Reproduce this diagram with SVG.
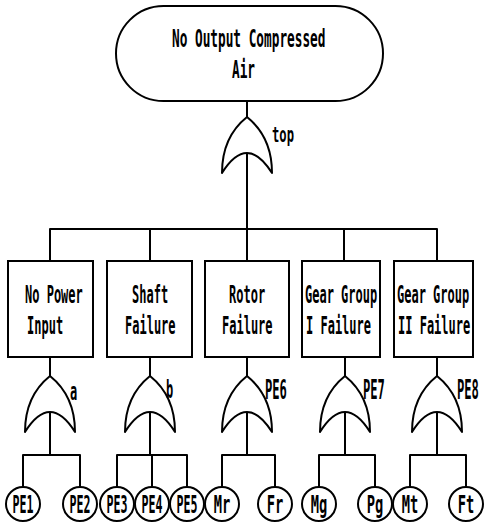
<svg xmlns="http://www.w3.org/2000/svg" width="484" height="530" viewBox="0 0 484 530">
<style>
.s{fill:none;stroke:#000;stroke-width:2;stroke-linejoin:round;stroke-linecap:round}
.b{fill:#fff;stroke:#000;stroke-width:2}
.t{font-family:"DejaVu Sans Mono","Liberation Mono",monospace;font-weight:bold;fill:#000}
.bx{font-size:25px}
.tp{font-size:25px}
.c{text-anchor:middle;font-size:25px}
.l{font-size:27px}
.sm{font-size:24px}
</style>
<defs>
<path id="or" d="M-25,56 C-25,25 -10,8 0,0 C10,8 25,25 25,56 Q0,16 -25,56 Z" fill="#fff" stroke="#000" stroke-width="2" stroke-linejoin="round"/>
<circle id="ev" r="17" fill="#fff" stroke="#000" stroke-width="2"/>
</defs>
<rect width="484" height="530" fill="#fff"/>
<g id="connectors" class="s">
<path d="M247,101V117M247,150V229M50,229H437M50,229V261M150,229V261M247,229V261M344,229V261M437,229V261"/>
<path d="M50,357V376M150,357V376M247,357V376M345,357V376M437,357V376"/>
<path d="M50,412V455M23,455H80M23,455V487M80,455V487"/>
<path d="M150,412V455M117,455H187M117,455V487M152,455V487M187,455V487"/>
<path d="M247,412V455M222,455H275M222,455V487M275,455V487"/>
<path d="M345,412V455M319,455H375M319,455V487M375,455V487"/>
<path d="M437,412V455M410,455H466M410,455V487M466,455V487"/>
</g>
<g id="n-top">
<rect x="116" y="6" width="267" height="95" rx="47.5" class="b"/>
<text class="t tp" transform="translate(172,47) scale(0.51,1)">No Output Compressed</text>
<text class="t tp" transform="translate(232,78) scale(0.51,1)">Air</text>
</g>
<g id="g-top"><use href="#or" x="247" y="117"/><text class="t" style="font-size:21px" transform="translate(272,142) scale(0.58,1)">top</text></g>
<g id="n-power">
<rect x="8" y="261" width="85" height="96" class="b"/>
<text class="t bx" transform="translate(25,303) scale(0.48,1)">No Power</text>
<text class="t bx" transform="translate(27,334) scale(0.48,1)">Input</text>
</g>
<g id="n-shaft">
<rect x="107" y="261" width="85" height="96" class="b"/>
<text class="t bx" transform="translate(132,303) scale(0.48,1)">Shaft</text>
<text class="t bx" transform="translate(125,334) scale(0.48,1)">Failure</text>
</g>
<g id="n-rotor">
<rect x="205" y="261" width="84" height="96" class="b"/>
<text class="t bx" transform="translate(229,303) scale(0.48,1)">Rotor</text>
<text class="t bx" transform="translate(222,334) scale(0.48,1)">Failure</text>
</g>
<g id="n-gear1">
<rect x="302" y="261" width="78" height="96" class="b"/>
<text class="t bx" transform="translate(305,303) scale(0.48,1)">Gear Group</text>
<text class="t bx" transform="translate(306,334) scale(0.48,1)">I Failure</text>
</g>
<g id="n-gear2">
<rect x="394" y="261" width="79" height="96" class="b"/>
<text class="t bx" transform="translate(397,303) scale(0.48,1)">Gear Group</text>
<text class="t bx" transform="translate(398,334) scale(0.48,1)">II Failure</text>
</g>
<g id="g-a"><use href="#or" x="50" y="376"/><text class="t sm" transform="translate(70,400) scale(0.5,1)">a</text></g>
<g id="g-b"><use href="#or" x="150" y="376"/><text class="t sm" transform="translate(166,398) scale(0.5,1)">b</text></g>
<g id="g-pe6"><use href="#or" x="247" y="376"/><text class="t l" transform="translate(265,399) scale(0.45,1)">PE6</text></g>
<g id="g-pe7"><use href="#or" x="345" y="376"/><text class="t l" transform="translate(363,399) scale(0.45,1)">PE7</text></g>
<g id="g-pe8"><use href="#or" x="437" y="376"/><text class="t l" transform="translate(457,399) scale(0.45,1)">PE8</text></g>
<g id="e-pe1"><use href="#ev" x="23" y="504"/><text class="t c" transform="translate(23,513) scale(0.465,1)">PE1</text></g>
<g id="e-pe2"><use href="#ev" x="80" y="504"/><text class="t c" transform="translate(80,513) scale(0.465,1)">PE2</text></g>
<g id="e-pe3"><use href="#ev" x="117" y="504"/><text class="t c" transform="translate(117,513) scale(0.465,1)">PE3</text></g>
<g id="e-pe4"><use href="#ev" x="152" y="504"/><text class="t c" transform="translate(152,513) scale(0.465,1)">PE4</text></g>
<g id="e-pe5"><use href="#ev" x="187" y="504"/><text class="t c" transform="translate(187,513) scale(0.465,1)">PE5</text></g>
<g id="e-mr"><use href="#ev" x="222" y="504"/><text class="t c" transform="translate(222,513) scale(0.55,1)">Mr</text></g>
<g id="e-fr"><use href="#ev" x="275" y="504"/><text class="t c" transform="translate(275,513) scale(0.55,1)">Fr</text></g>
<g id="e-mg"><use href="#ev" x="319" y="504"/><text class="t c" transform="translate(319,513) scale(0.55,1)">Mg</text></g>
<g id="e-pg"><use href="#ev" x="375" y="504"/><text class="t c" transform="translate(375,513) scale(0.55,1)">Pg</text></g>
<g id="e-mt"><use href="#ev" x="410" y="504"/><text class="t c" transform="translate(410,513) scale(0.55,1)">Mt</text></g>
<g id="e-ft"><use href="#ev" x="466" y="504"/><text class="t c" transform="translate(466,513) scale(0.55,1)">Ft</text></g>
</svg>
